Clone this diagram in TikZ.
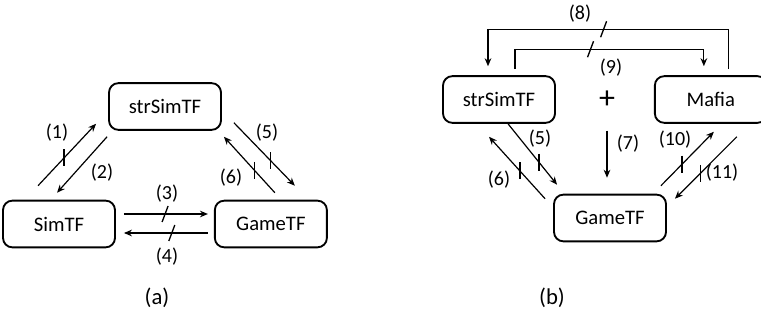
\documentclass[tikz,border=0pt]{standalone}
\usepackage{fontspec}
\setmainfont{Carlito}
\usetikzlibrary{positioning}
\usetikzlibrary{arrows.meta}
\tikzstyle{arrow} = [line width=0.9pt, ->, >={Stealth[length=6pt,width=5pt]}]
\tikzstyle{box} = [draw, line width=1.4pt, rounded corners=7pt, minimum width=84pt, minimum height=35pt, font=\fontsize{15.5}{17}\selectfont]
\tikzstyle{lab} = [font=\fontsize{15}{17}\selectfont, inner sep=0pt]
\tikzset{
  vtick/.pic={\draw[line width=1pt] (0,-8.5) -- (0,8.5);},
  stick/.pic={\draw[line width=1pt] (-3,8) -- (3,-8);}
}

\begin{document}
\begin{tikzpicture}[x=0.75pt, y=-0.75pt]
    \useasboundingbox (0,0) rectangle (761,320);

    % (a) three frameworks
    \node[box] (SimA) at (59,224) {SimTF};
    \node[box, right=73.5pt of SimA] (GameA) {GameTF};
    \node[box] (StrA) at (165,106.5) {strSimTF};

    \draw[arrow] ([shift={(-21,-14)}]SimA.north) -- coordinate[pos=.45] (t1) ([shift={(-12,-7)}]StrA.south west);
    \draw[arrow] ([shift={(-1,6)}]StrA.south west) -- ([shift={(-2,-7)}]SimA.north);
    \draw[arrow] ([shift={(8,-10)}]SimA.east) -- coordinate[pos=.49] (t3) ([shift={(-6,-10)}]GameA.west);
    \draw[arrow] ([shift={(-6,9)}]GameA.west) -- coordinate[pos=.43] (t4) ([shift={(8,9)}]SimA.east);
    \draw[arrow] ([shift={(12,-8)}]StrA.south east) -- coordinate[pos=.6] (t5) ([shift={(24,-14)}]GameA.north);
    \draw[arrow] ([shift={(4,-7)}]GameA.north) -- coordinate[pos=.4] (t6) ([shift={(2,6)}]StrA.south east);
    \pic at (t1) {vtick};
    \pic at (t3) {stick};
    \pic at (t4) {stick};
    \pic at (t5) {vtick};
    \pic at (t6) {vtick};

    \node[lab] (l1) at (57,133) {(1)};
    \node[lab] (l2) at (102,173) {(2)};
    \node[lab] (l3) at (167,194) {(3)};
    \node[lab] (l4) at (167,257) {(4)};
    \node[lab] (l5) at (267,133) {(5)};
    \node[lab] (l6) at (231,178) {(6)};
    \node[lab, font=\fontsize{17}{19}\selectfont] (capA) at (157,298) {(a)};

    % (b) with Mafia
    \node[box] (StrB) at (499,99.5) {strSimTF};
    \node[box, right=73.5pt of StrB] (Mafia) {Mafia};
    \node[box] (GameB) at (610,218) {GameTF};
    \node[font=\fontsize{24}{26}\selectfont, inner sep=0pt] (plus) at (607,100) {+};

    \draw[arrow] ([shift={(18,-6)}]Mafia.north) -- ++(0,-40) -| coordinate[pos=.26] (t8) ([shift={(-11,-9)}]StrB.north);
    \draw[arrow] ([shift={(16,-6)}]StrB.north) -- ++(0,-20) -| coordinate[pos=.2] (t9) ([shift={(-7,-9)}]Mafia.north);
    \draw[arrow] ([yshift=-23pt]plus.center) -- ([shift={(-3,-16)}]GameB.north);
    \draw[arrow] ([shift={(9,0)}]StrB.south) -- coordinate[pos=.63] (t5b) ([shift={(4,-9)}]GameB.north west);
    \draw[arrow] ([shift={(-8,5)}]GameB.north west) -- coordinate[pos=.45] (t6b) ([shift={(-10,13)}]StrB.south);
    \draw[arrow] ([shift={(-6,-8)}]GameB.north east) -- coordinate[pos=.4] (t10) ([shift={(3,8)}]Mafia.south);
    \draw[arrow] ([shift={(26,13)}]Mafia.south) -- coordinate[pos=.59] (t11) ([shift={(8,5)}]GameB.north east);
    \pic at (t8) {stick};
    \pic at (t9) {stick};
    \pic at (t5b) {vtick};
    \pic at (t6b) {vtick};
    \pic at (t10) {vtick};
    \pic at (t11) {vtick};

    \node[lab] (l8) at (580,14) {(8)};
    \node[lab] (l9) at (611,68) {(9)};
    \node[lab] (l5b) at (540,139) {(5)};
    \node[lab] (l6b) at (499,180) {(6)};
    \node[lab] (l7) at (628,144) {(7)};
    \node[lab] (l10) at (675,140) {(10)};
    \node[lab] (l11) at (722,173) {(11)};
    \node[lab, font=\fontsize{17}{19}\selectfont] (capB) at (552,298) {(b)};
\end{tikzpicture}
\end{document}
